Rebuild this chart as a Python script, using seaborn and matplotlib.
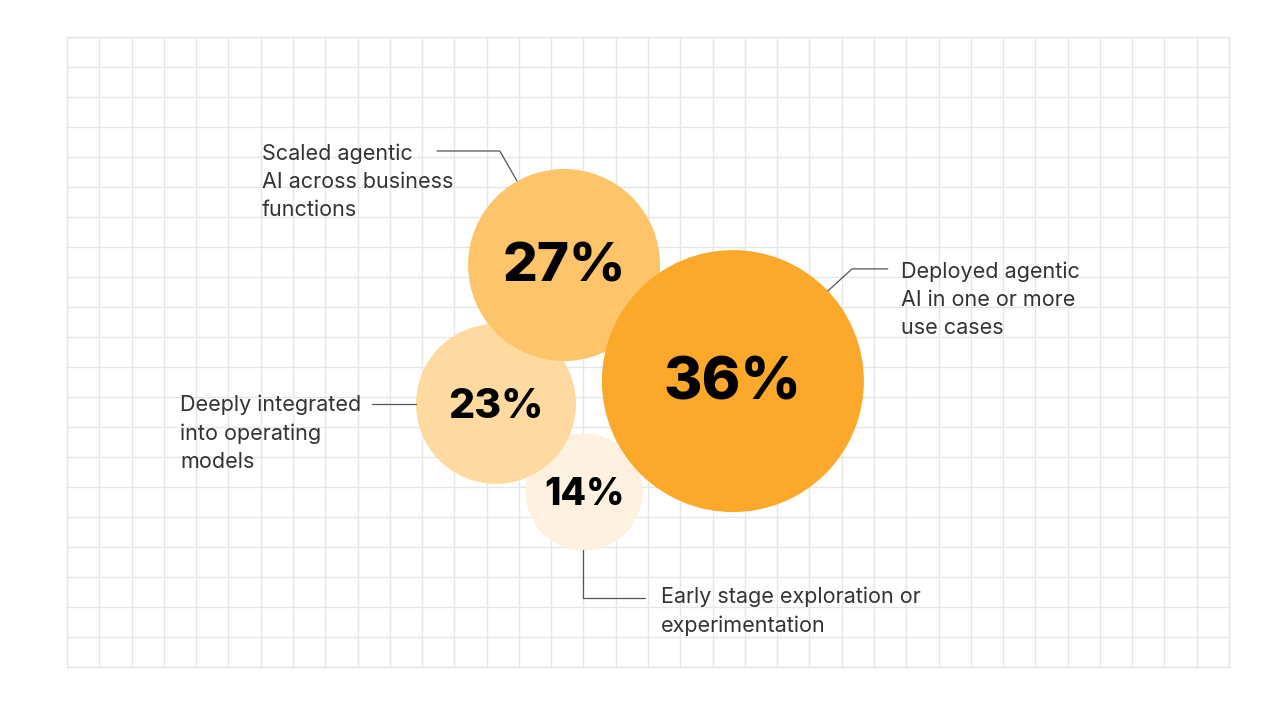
import matplotlib
matplotlib.use("Agg")
import matplotlib.pyplot as plt
import seaborn as sns
import pandas as pd

# ---- data ----
categories = ["Early stage exploration or\nexperimentation",
              "Deeply integrated\ninto operating\nmodels",
              "Scaled agentic\nAI across business\nfunctions",
              "Deployed agentic\nAI in one or more\nuse cases"]
values = [14, 23, 27, 36]
value_labels = ["14%", "23%", "27%", "36%"]
# bubble centres in grid-cell units
bubble_x = [16.02, 13.29, 15.40, 20.63]
bubble_y = [15.17, 12.23, 7.60, 11.47]

# ---- style ----
colors = ["#FEF1DF", "#FEDAA0", "#FDC469", "#FCA92B"]
radii_px = [58.5, 80, 96, 131]
pct_fontsize = [26.8, 29.6, 39.4, 42.3]
DPI = 100

sns.set_theme(style="white")
plt.rcParams['font.family'] = ['Inter', 'DejaVu Sans']

df = pd.DataFrame({"cat": categories, "value": values,
                   "x": bubble_x, "y": bubble_y})

fig = plt.figure(figsize=(12.8, 7.2), dpi=DPI)
fig.patch.set_facecolor("white")
# grid rectangle: x 67..1229, y 37..667 (pixels)
ax = fig.add_axes([67 / 1280, (720 - 667) / 720, 1162 / 1280, 630 / 720])
ax.set_xlim(0, 36)
ax.set_ylim(21, 0)
ax.set_xticks(range(0, 37))
ax.set_yticks(range(0, 22))
ax.grid(True, color="#E6E6E6", linewidth=1.0)
ax.tick_params(length=0, labelbottom=False, labelleft=False)
for s in ax.spines.values():
    s.set_color("#E6E6E6")
    s.set_linewidth(1.0)
ax.set_axisbelow(True)

size_map = {c: (2 * r * 72 / DPI) ** 2 for c, r in zip(categories, radii_px)}
pal = dict(zip(categories, colors))
sns.scatterplot(data=df, x="x", y="y", hue="cat", palette=pal,
                size="cat", sizes=size_map, legend=False,
                edgecolor="none", linewidth=0, alpha=1, ax=ax, zorder=3)
ax.set_xlabel("")
ax.set_ylabel("")

for x, y, lab, fs in zip(bubble_x, bubble_y, value_labels, pct_fontsize):
    ax.text(x, y + 0.1, lab, ha="center", va="center", fontsize=fs,
            fontweight=800, color="#000000", zorder=5)

# leader lines (grid-cell units)
leaders = [
    ([15.99, 15.99, 17.91], [17.10, 18.70, 18.70]),
    ([9.45, 10.81], [12.23, 12.23]),
    ([11.46, 13.41, 13.94], [3.80, 3.80, 4.80]),
    ([23.57, 24.32, 25.43], [8.47, 7.73, 7.73]),
]
for lx, ly in leaders:
    ax.plot(lx, ly, color="#555555", linewidth=0.9, zorder=4)

label_pos = [(18.40, 19.15), (3.50, 13.22), (6.04, 4.82), (25.84, 8.75)]
for (tx, ty), cat in zip(label_pos, categories):
    ax.text(tx, ty, cat, ha="left", va="center", fontsize=15.5,
            color="#333333", linespacing=1.5, zorder=5)

fig.savefig("out.png", dpi=DPI, facecolor="white")
